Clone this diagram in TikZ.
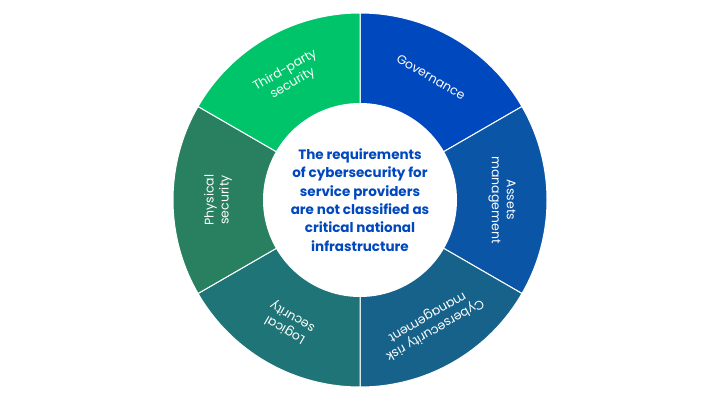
\documentclass[tikz,border=0pt]{standalone}
\usepackage{fontspec}
\setmainfont{Poppins}
\usetikzlibrary{calc}
\begin{document}
\begin{tikzpicture}[x=1pt,y=1pt]
		
		% Define colors
		\definecolor{govcolor}{RGB}{0, 72, 190}
		\definecolor{assetcolor}{RGB}{10, 85, 165}
		\definecolor{riskcolor}{RGB}{22, 98, 138}
		\definecolor{logcolor}{RGB}{30, 116, 118}
		\definecolor{physcolor}{RGB}{40, 128, 96}
		\definecolor{thirdcolor}{RGB}{0, 196, 106}
		\tikzset{seglabel/.style={text=white, align=center, font=\fontsize{12.5}{15}\selectfont}}
		
		\useasboundingbox (0,0) rectangle (720,400);
		\coordinate (c) at (360,200);
		
		% Draw the six segments
		\foreach \a/\col in {90/govcolor, 30/assetcolor, -30/riskcolor, -90/logcolor, -150/physcolor, -210/thirdcolor}
			\fill[\col, draw=white, line width=1pt] (c) -- ++(\a:187) arc (\a:\a-60:187) -- cycle;
		
		% Draw the inner circle
		\fill[white] (c) circle (97);
		\node[text=govcolor, align=center, font=\bfseries\fontsize{13.5}{18.4}\selectfont] (title) at (c)
			{The requirements\\of cybersecurity for\\service providers\\are not classified as\\critical national\\infrastructure};
		
		% Add segment labels
		\node[seglabel, rotate=-30] (gov) at ($(c)+(60:142)$) {Governance};
		\node[seglabel, rotate=-90] (asset) at ($(c)+(0:142)$) {Assets\\management};
		\node[seglabel, rotate=-150] (risk) at ($(c)+(-60:142)$) {Cybersecurity risk\\management};
		\node[seglabel, rotate=150] (logic) at ($(c)+(-120:142)$) {Logical\\security};
		\node[seglabel, rotate=90] (phys) at ($(c)+(180:142)$) {Physical\\security};
		\node[seglabel, rotate=30] (third) at ($(c)+(120:142)$) {Third-party\\security};
	\end{tikzpicture}
\end{document}
